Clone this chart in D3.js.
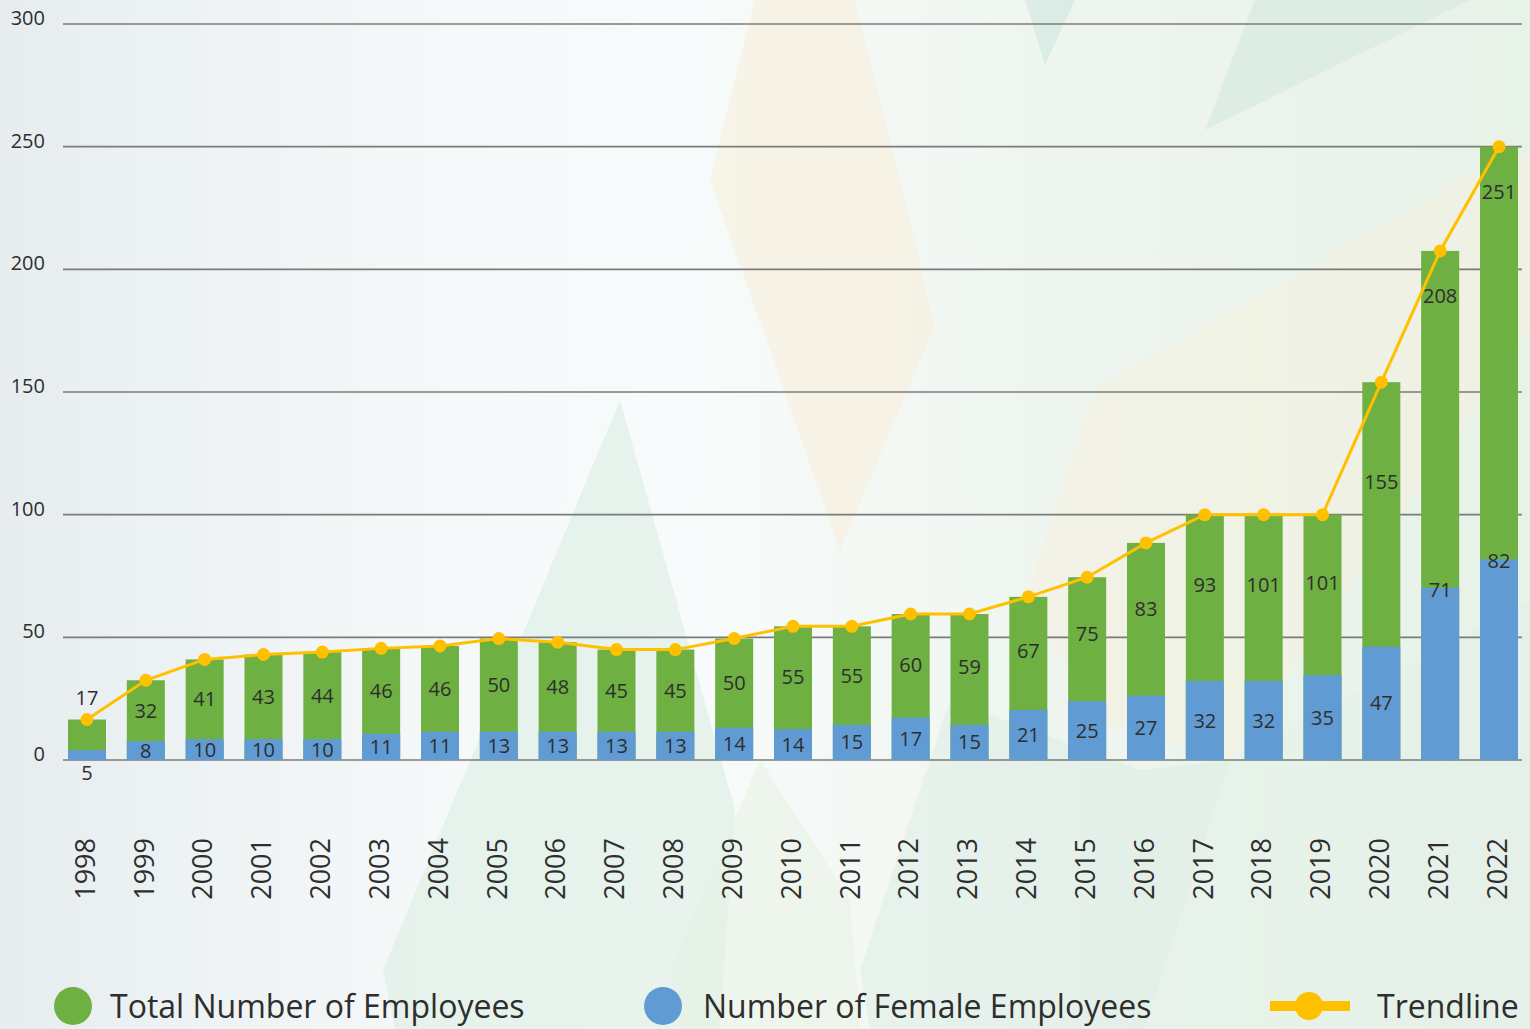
<!DOCTYPE html>
<html>
<head>
<meta charset="utf-8">
<script src="https://cdn.jsdelivr.net/npm/d3@7"></script>
<style>
  html, body { margin: 0; padding: 0; background: #f3f7f6; }
  svg { display: block; }
  text { font-family: "Open Sans", "Noto Sans", sans-serif; fill: #2e2e2e; }
</style>
</head>
<body>
<svg id="chart" width="1530" height="1029"></svg>
<script>
// ---- data ----
const years = ["1998","1999","2000","2001","2002","2003","2004","2005","2006","2007","2008","2009","2010","2011","2012","2013","2014","2015","2016","2017","2018","2019","2020","2021","2022"];
// printed value labels
const totalLabels  = [17,32,41,43,44,46,46,50,48,45,45,50,55,55,60,59,67,75,83,93,101,101,155,208,251];
const femaleLabels = [5,8,10,10,10,11,11,13,13,13,13,14,14,15,17,15,21,25,27,32,32,35,47,71,82];
// bar heights as drawn in the reference
const totalBars  = [16.5,32.5,41,43,44,45.5,46.5,49.5,48,45,45,49.5,54.5,54.5,59.5,59.5,66.5,74.5,88.5,100,100,100,154,207.5,250];
const femaleBars = [4,7.7,8.5,8.5,8.5,10.7,11.5,11.5,11.5,11.5,11.5,13.2,12.6,14.3,17.3,14.3,20.4,24,26.2,32.2,32.2,34.6,46.2,70.2,81.8];
const yTicks = [0,50,100,150,200,250,300];
const legendItems = ["Total Number of Employees","Number of Female Employees","Trendline"];

const colors = { total: "#6FB043", female: "#619BD4", trend: "#FFC000", grid: "#7b7b7b" };

const svg = d3.select("#chart");
const W = 1530, H = 1029;

// ---- background ----
const defs = svg.append("defs");
const bg = defs.append("linearGradient").attr("id","bg").attr("x1","0").attr("x2","1").attr("y1","0").attr("y2","0");
[["0%","#e7edef"],["30%","#f6f9fa"],["45%","#f8fbfb"],["70%","#eef5ee"],["100%","#e7f2e9"]].forEach(s=>bg.append("stop").attr("offset",s[0]).attr("stop-color",s[1]));
svg.append("rect").attr("width",W).attr("height",H).attr("fill","url(#bg)");

const shapes = [
  {pts:[[383,970],[620,400],[735,810],[720,1029],[395,1029]], fill:"#d9ece0", op:0.55},
  {pts:[[755,0],[855,0],[935,325],[840,550],[710,180]], fill:"#f7efd9", op:0.55},
  {pts:[[1025,600],[1095,390],[1470,175],[1530,150],[1530,330],[1230,760],[1100,720]], fill:"#f6efdc", op:0.45},
  {pts:[[1025,0],[1075,0],[1045,65]], fill:"#cfe6df", op:0.6},
  {pts:[[1205,130],[1255,0],[1470,0]], fill:"#d3e8df", op:0.55},
  {pts:[[860,970],[950,700],[1140,770],[1230,760],[1145,1029],[870,1029]], fill:"#d7ebe3", op:0.45},
  {pts:[[670,970],[760,760],[850,900],[860,1029],[680,1029]], fill:"#e6f1e2", op:0.5},
  {pts:[[1145,1029],[1230,760],[1530,600],[1530,1029]], fill:"#e2efe6", op:0.45}
];
svg.append("g").selectAll("polygon").data(shapes).join("polygon")
  .attr("points", d => d.pts.map(p=>p.join(",")).join(" "))
  .attr("fill", d => d.fill).attr("opacity", d => d.op);

// ---- scales ----
const x = d3.scaleBand().domain(years).range([68, 1518]).paddingInner(0.354).paddingOuter(0);
const y = d3.scaleLinear().domain([0, 300]).range([760, 24]);
const gridX0 = 63, gridX1 = 1522;

// ---- grid + y tick labels ----
const g = svg.append("g");
g.selectAll("line.grid").data(yTicks).join("line")
  .attr("class","grid")
  .attr("x1", gridX0).attr("x2", gridX1)
  .attr("y1", d => y(d)).attr("y2", d => y(d))
  .attr("stroke", colors.grid).attr("stroke-width", 1.6);
g.selectAll("text.ytick").data(yTicks).join("text")
  .attr("class","ytick")
  .attr("x", 45).attr("y", d => y(d) + 1)
  .attr("text-anchor","end")
  .style("font-size","20px")
  .text(d => d);

const rows = years.map((yr,i)=>({yr, t: totalBars[i], f: femaleBars[i], tl: totalLabels[i], fl: femaleLabels[i]}));

// ---- bars ----
g.selectAll("rect.total").data(rows).join("rect")
  .attr("class","total")
  .attr("x", d => x(d.yr)).attr("width", x.bandwidth())
  .attr("y", d => y(d.t)).attr("height", d => y(0) - y(d.t))
  .attr("fill", colors.total);
g.selectAll("rect.female").data(rows).join("rect")
  .attr("class","female")
  .attr("x", d => x(d.yr)).attr("width", x.bandwidth())
  .attr("y", d => y(d.f)).attr("height", d => y(0) - y(d.f))
  .attr("fill", colors.female);

// ---- trendline ----
const cx = d => x(d.yr) + x.bandwidth()/2;
const line = d3.line().x(cx).y(d => y(d.t));
g.append("path").datum(rows).attr("d", line)
  .attr("fill","none").attr("stroke", colors.trend).attr("stroke-width", 3);
g.selectAll("circle.dot").data(rows).join("circle")
  .attr("class","dot").attr("cx", cx).attr("cy", d => y(d.t)).attr("r", 6.5)
  .attr("fill", colors.trend);

// ---- value labels ----
function totalLabelY(d){
  const top = y(d.t), ftop = y(d.f), h = ftop - top;
  if (h < 35) return top - 22;
  if (h > 300) return top + 45;
  return (top + ftop)/2 - Math.max(0, h - 100) * 0.2;
}
function femaleLabelY(d){
  const top = y(d.f), h = y(0) - top;
  if (h < 15) return y(0) + 13;
  if (d.f > 60) return top + 2;
  return (top + y(0))/2;
}
g.selectAll("text.tl").data(rows).join("text")
  .attr("class","tl").attr("x", cx).attr("y", totalLabelY)
  .attr("dy","0.35em").attr("text-anchor","middle")
  .style("font-size","20px").text(d => d.tl);
g.selectAll("text.fl").data(rows).join("text")
  .attr("class","fl").attr("x", cx).attr("y", femaleLabelY)
  .attr("dy","0.35em").attr("text-anchor","middle")
  .style("font-size","20px").text(d => d.fl);

// ---- x axis labels (rotated) ----
g.selectAll("text.xl").data(years).join("text")
  .attr("class","xl")
  .attr("transform", d => `translate(${x(d) + x.bandwidth()/2 - 2},838) rotate(-90)`)
  .attr("text-anchor","end").attr("dy","0.36em")
  .style("font-size","27px").text(d => d);

// ---- legend ----
const lg = svg.append("g");
lg.append("circle").attr("cx",73).attr("cy",1006).attr("r",19).attr("fill",colors.total);
lg.append("text").attr("x",110).attr("y",1018).style("font-size","32px").text(legendItems[0]);
lg.append("circle").attr("cx",663).attr("cy",1006).attr("r",19).attr("fill",colors.female);
lg.append("text").attr("x",703).attr("y",1018).style("font-size","32px").text(legendItems[1]);
lg.append("line").attr("x1",1270).attr("x2",1350).attr("y1",1006).attr("y2",1006)
  .attr("stroke",colors.trend).attr("stroke-width",10);
lg.append("circle").attr("cx",1309).attr("cy",1006).attr("r",14).attr("fill",colors.trend);
lg.append("text").attr("x",1377).attr("y",1018).style("font-size","32px").text(legendItems[2]);
</script>
</body>
</html>
